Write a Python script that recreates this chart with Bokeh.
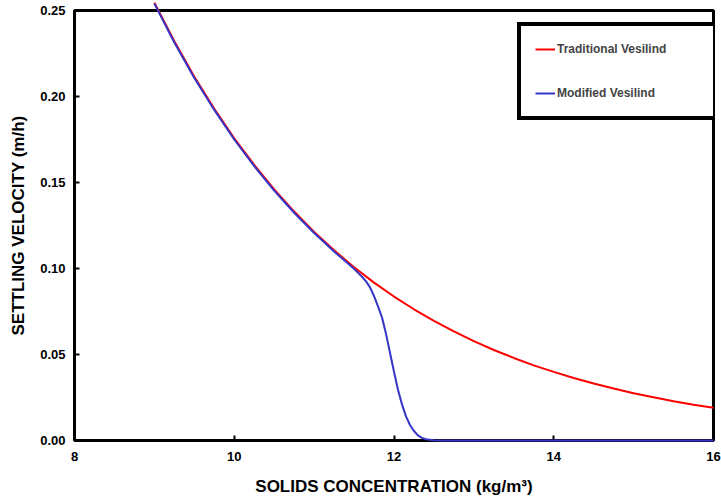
from bokeh.plotting import figure
from bokeh.models import Legend, LegendItem, Range1d, FixedTicker, PrintfTickFormatter
from bokeh.embed import file_html
from bokeh.resources import INLINE

# Data
trad_x = [9.0, 9.25, 9.5, 9.75, 10.0, 10.25, 10.5, 10.75, 11.0, 11.25, 11.5, 11.75, 12.0,
          12.25, 12.5, 12.75, 13.0, 13.25, 13.5, 13.75, 14.0, 14.25, 14.5, 14.75, 15.0,
          15.25, 15.5, 15.75, 16.0]
trad_v = [0.2546, 0.2321, 0.2115, 0.1929, 0.1757, 0.1602, 0.1460, 0.1331, 0.1213, 0.1106,
          0.1007, 0.0918, 0.0837, 0.0763, 0.0696, 0.0634, 0.0578, 0.0526, 0.0480, 0.0437,
          0.0399, 0.0363, 0.0331, 0.0302, 0.0275, 0.0251, 0.0228, 0.0208, 0.0190]

mod_x = [9.0, 9.25, 9.5, 9.75, 10.0, 10.25, 10.5, 10.75, 11.0, 11.25, 11.5, 11.6, 11.65, 11.7,
         11.75, 11.8, 11.85, 11.9, 11.95, 12.0, 12.05, 12.1, 12.15, 12.2, 12.25, 12.3, 12.35,
         12.4, 12.5, 12.6, 13.0, 14.0, 15.0, 16.0]
mod_v = [0.2540, 0.2314, 0.2108, 0.1922, 0.1750, 0.1595, 0.1453, 0.1324, 0.1206, 0.1099,
         0.0998, 0.0952, 0.0925, 0.0890, 0.0840, 0.0780, 0.0715, 0.0620, 0.0510, 0.0400,
         0.0295, 0.0210, 0.0140, 0.0090, 0.0055, 0.0030, 0.0015, 0.0007, 0.0002, 0.0,
         0.0, 0.0, 0.0, 0.0]

x_ticks = [8, 10, 12, 14, 16]
y_ticks = [0.0, 0.05, 0.10, 0.15, 0.20, 0.25]

FONT = "Liberation Sans"

p = figure(width=721, height=499, output_backend="svg", toolbar_location=None,
           x_range=Range1d(8, 16), y_range=Range1d(0, 0.25),
           min_border_left=74, min_border_right=8, min_border_top=10, min_border_bottom=59)

p.xgrid.visible = False
p.ygrid.visible = False
p.outline_line_color = "black"
p.outline_line_width = 3

r_trad = p.line(trad_x, trad_v, line_color="#FF0000", line_width=2, level="annotation")
r_mod = p.line(mod_x, mod_v, line_color="#3535C8", line_width=2, level="annotation")

for ax in (p.xaxis[0], p.yaxis[0]):
    ax.axis_line_width = 3
    ax.axis_line_color = "black"
    ax.major_tick_in = 5
    ax.major_tick_out = 0
    ax.major_tick_line_width = 2
    ax.minor_tick_line_color = None
    ax.major_label_text_font = FONT
    ax.major_label_text_font_style = "bold"
    ax.major_label_text_font_size = "13px"
    ax.major_label_text_color = "black"
    ax.axis_label_text_font = FONT
    ax.axis_label_text_font_style = "bold"
    ax.axis_label_text_font_size = "17px"
    ax.axis_label_text_color = "black"

p.xaxis.ticker = FixedTicker(ticks=x_ticks)
p.yaxis.ticker = FixedTicker(ticks=y_ticks)
p.yaxis.formatter = PrintfTickFormatter(format="%.2f")
p.xaxis.axis_label = "SOLIDS CONCENTRATION (kg/m³)"
p.yaxis.axis_label = "SETTLING VELOCITY (m/h)"
p.xaxis.major_label_standoff = 11
p.xaxis.axis_label_standoff = 13
p.yaxis.major_label_standoff = 9
p.yaxis.axis_label_standoff = 9

legend = Legend(items=[LegendItem(label="Traditional Vesilind", renderers=[r_trad]),
                       LegendItem(label="Modified Vesilind", renderers=[r_mod])],
                location=(443, 320))
legend.label_text_font = FONT
legend.label_text_font_style = "bold"
legend.label_text_font_size = "12px"
legend.label_height = 18
legend.glyph_height = 18
legend.glyph_width = 20
legend.label_standoff = 2
legend.label_width = 149
legend.spacing = 26
legend.padding = 14
legend.margin = 0
legend.border_line_color = "black"
legend.border_line_alpha = 1.0
legend.border_line_width = 4
legend.background_fill_alpha = 1.0
p.add_layout(legend, "center")

open("out.html", "w").write(file_html(p, INLINE))
